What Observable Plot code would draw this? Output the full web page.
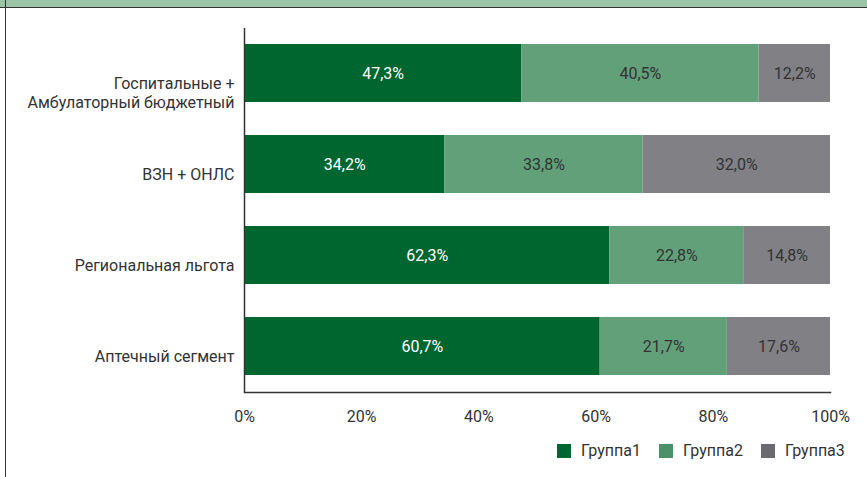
<!DOCTYPE html>
<html>
<head>
<meta charset="utf-8">
<script src="https://cdn.jsdelivr.net/npm/d3@7"></script>
<script src="https://cdn.jsdelivr.net/npm/@observablehq/plot@0.6"></script>
<style>
  html, body { margin: 0; padding: 0; background: #fff; }
  #wrap { position: relative; width: 867px; height: 477px; overflow: hidden; font-family: Roboto, "Noto Sans", sans-serif; color: #333; }
  #band { position: absolute; left: 0; top: 0; width: 867px; height: 7px; background: #9cc5a8; border-bottom: 1.5px solid #333; z-index: 2; }
  #leftline { position: absolute; left: 5px; top: 0; width: 0; height: 477px; border-left: 1.5px solid #333; z-index: 3; }
  #chart { position: absolute; left: 0; top: 0; }
  #legend { position: absolute; left: 557px; top: 441px; display: flex; align-items: center; font-size: 16px; color: #333; }
  #legend .item { display: flex; align-items: center; margin-right: 18px; }
  #legend .sw { width: 14px; height: 14px; margin-right: 10px; }
</style>
</head>
<body>
<div id="wrap">
  <div id="band"></div>
  <div id="leftline"></div>
  <div id="chart"></div>
  <div id="legend"></div>
</div>
<script>
const categories = ["Госпитальные +\nАмбулаторный бюджетный", "ВЗН + ОНЛС", "Региональная льгота", "Аптечный сегмент"];
const seriesNames = ["Группа1", "Группа2", "Группа3"];
const group1 = [47.3, 34.2, 62.3, 60.7];
const group2 = [40.5, 33.8, 22.8, 21.7];
const group3 = [12.2, 32.0, 14.8, 17.6];
const xTicks = [0, 0.2, 0.4, 0.6, 0.8, 1];

const barColors = ["#006630", "#62a07a", "#808085"];
const legendColors = ["#00662f", "#4a9068", "#6a6a70"];
const textColors = ["#ffffff", "#333333", "#333333"];

const seriesValues = [group1, group2, group3];
const data = [];
seriesNames.forEach((s, si) => {
  categories.forEach((c, ci) => {
    data.push({category: c, series: s, value: seriesValues[si][ci], si});
  });
});

const fmt = v => v.toFixed(1).replace(".", ",") + "%";

const chart = Plot.plot({
  width: 867,
  height: 440,
  marginTop: 28,
  marginBottom: 48,
  marginLeft: 244,
  marginRight: 37,
  style: {background: "transparent", fontFamily: "Roboto, 'Noto Sans', sans-serif", fontSize: "16px", color: "#333"},
  x: {domain: [0, 1], ticks: xTicks, tickFormat: d => Math.round(d * 100) + "%", tickSize: 0, tickPadding: 18, label: null},
  y: {domain: categories, paddingInner: 0.36, paddingOuter: 0.18, axis: null},
  color: {domain: seriesNames, range: barColors},
  marks: [
    Plot.barX(data, Plot.stackX({x: "value", y: "category", fill: "series", order: seriesNames, offset: "normalize"})),
    Plot.text(data, Plot.stackX({x: "value", y: "category", z: "series", order: seriesNames, offset: "normalize",
      text: d => fmt(d.value), fill: d => textColors[d.si], fontSize: 16})),
    Plot.text(categories, {y: d => d, frameAnchor: "left", textAnchor: "end", dx: -10, dy: 2, lineAnchor: "top", lineHeight: 1.2, fill: "#333", fontSize: 16}),
    Plot.ruleX([0], {stroke: "#333", strokeWidth: 1.5}),
    Plot.frame({anchor: "bottom", stroke: "#333", strokeWidth: 1.5})
  ]
});
document.getElementById("chart").appendChild(chart);

const legend = document.getElementById("legend");
seriesNames.forEach((s, i) => {
  const item = document.createElement("div");
  item.className = "item";
  const sw = document.createElement("div");
  sw.className = "sw";
  sw.style.background = legendColors[i];
  const t = document.createElement("span");
  t.textContent = s;
  item.appendChild(sw);
  item.appendChild(t);
  legend.appendChild(item);
});
</script>
</body>
</html>
